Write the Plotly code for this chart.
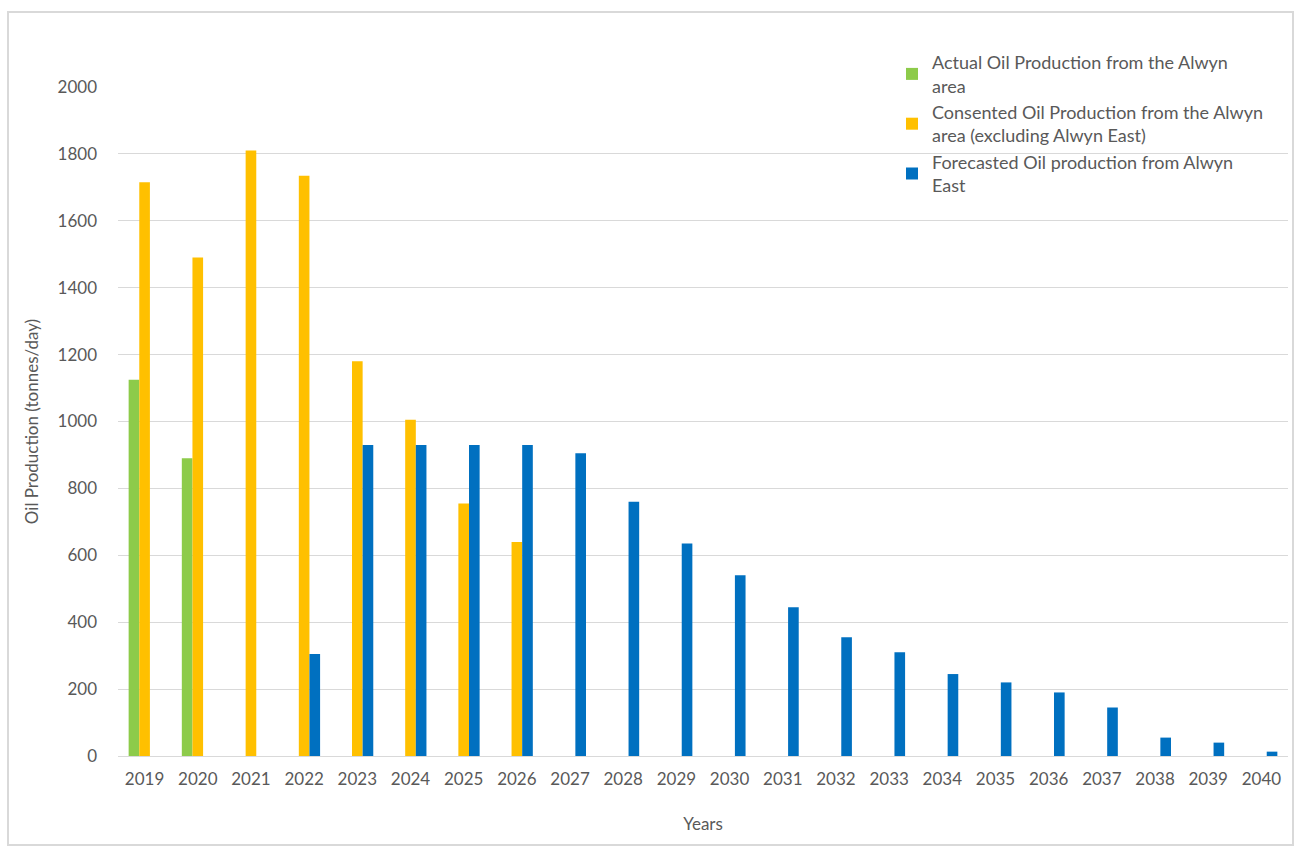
import plotly.graph_objects as go

years = [str(y) for y in range(2019, 2041)]

actual = [1125, 890] + [0] * 20
consented = [1715, 1490, 1810, 1735, 1180, 1005, 755, 640] + [0] * 14
forecast = [0, 0, 0, 305, 930, 930, 930, 930, 905, 760, 635, 540,
            445, 355, 310, 245, 220, 190, 145, 55, 40, 13]

series_names = [
    "Actual Oil Production from the Alwyn<br>area",
    "Consented Oil Production from the Alwyn<br>area (excluding Alwyn East)",
    "Forecasted Oil production from Alwyn<br>East",
]
series_colors = ["#8DCB4A", "#FFC000", "#0070C0"]

W, H = 1295, 846
L, R, T, B = 118, 7, 87, 90

fig = go.Figure()
for i, (vals, name, col) in enumerate(zip([actual, consented, forecast], series_names, series_colors)):
    fig.add_trace(go.Bar(
        x=years, y=vals, name=name, marker_color=col, marker_line_width=0,
        legendgroup=f"g{i}",
    ))

font_family = "Lato, 'Open Sans', sans-serif"
text_col = "#595959"

pw = W - L - R
ph = H - T - B

fig.update_layout(
    width=W, height=H,
    margin=dict(l=L, r=R, t=T, b=B),
    paper_bgcolor="white", plot_bgcolor="white",
    barmode="group", bargap=0.4, bargroupgap=0,
    font=dict(family=font_family, color=text_col, size=17),
    legend=dict(
        x=(892 - L) / pw, y=(756 - 44) / ph, xanchor="left", yanchor="top",
        font=dict(size=18, color=text_col), itemwidth=30,
        tracegroupgap=0, bgcolor="rgba(0,0,0,0)",
    ),
    showlegend=True,
    xaxis=dict(
        type="category", showgrid=False, zeroline=False, showline=False,
        ticks="", tickfont=dict(size=17, color=text_col), ticklabelstandoff=11,
        title=dict(text="Years", font=dict(size=17, color=text_col), standoff=30),
    ),
    yaxis=dict(
        range=[0, 2000], dtick=200, showgrid=True, gridcolor="#d9d9d9", gridwidth=1,
        zeroline=True, zerolinecolor="#d9d9d9", zerolinewidth=1, showline=False,
        ticks="", tickfont=dict(size=17, color=text_col), ticklabelstandoff=20,
        title=dict(text="Oil Production (tonnes/day)", font=dict(size=17, color=text_col), standoff=14),
    ),
)

# light frame around the chart area
fig.add_shape(
    type="rect", xref="paper", yref="paper",
    x0=(8 - L) / pw, x1=(1293 - L) / pw,
    y0=(756 - 845) / ph, y1=(756 - 12) / ph,
    line=dict(color="#d9d9d9", width=2), fillcolor="rgba(0,0,0,0)", layer="below",
)

fig.write_html("out.html")
